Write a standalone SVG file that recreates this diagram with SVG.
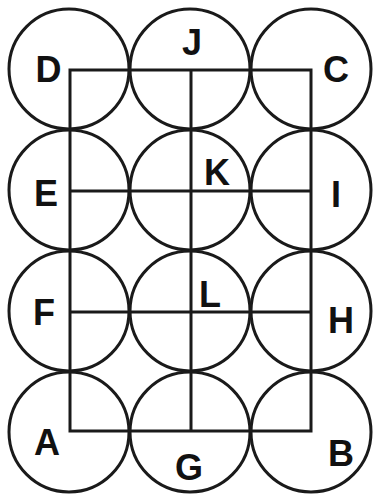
<svg xmlns="http://www.w3.org/2000/svg" width="374" height="496" viewBox="0 0 374 496">
<style>
.c{fill:none;stroke:#1a1a1a;stroke-width:3}
.l{fill:none;stroke:#1a1a1a;stroke-width:3}
.t{font-family:"Liberation Sans",Arial,sans-serif;font-weight:bold;font-size:36px;fill:#111;text-anchor:middle}
</style>
<rect width="374" height="496" fill="#fff"/>
<g id="connectors">
<path class="l" d="M70,70 H311 V431 H70 Z"/>
<path class="l" d="M191,70 V431"/>
<path class="l" d="M70,191 H311"/>
<path class="l" d="M70,312 H311"/>
</g>
<g id="D"><circle class="c" cx="69" cy="69" r="60"/><text class="t" x="48.5" y="82">D</text></g>
<g id="J"><circle class="c" cx="190" cy="69" r="60"/><text class="t" x="192" y="55">J</text></g>
<g id="C"><circle class="c" cx="311" cy="69" r="60"/><text class="t" x="336" y="82">C</text></g>
<g id="E"><circle class="c" cx="69" cy="190" r="60"/><text class="t" x="46" y="206">E</text></g>
<g id="K"><circle class="c" cx="190" cy="190" r="60"/><text class="t" x="217" y="185">K</text></g>
<g id="I"><circle class="c" cx="311" cy="190" r="60"/><text class="t" x="336" y="207">I</text></g>
<g id="F"><circle class="c" cx="69" cy="311" r="60"/><text class="t" x="44" y="325">F</text></g>
<g id="L"><circle class="c" cx="190" cy="311" r="60"/><text class="t" x="210" y="307">L</text></g>
<g id="H"><circle class="c" cx="311" cy="311" r="60"/><text class="t" x="341" y="333">H</text></g>
<g id="A"><circle class="c" cx="69" cy="432" r="60"/><text class="t" x="47" y="455">A</text></g>
<g id="G"><circle class="c" cx="190" cy="432" r="60"/><text class="t" x="189" y="480">G</text></g>
<g id="B"><circle class="c" cx="311" cy="432" r="60"/><text class="t" x="341" y="466">B</text></g>
</svg>
